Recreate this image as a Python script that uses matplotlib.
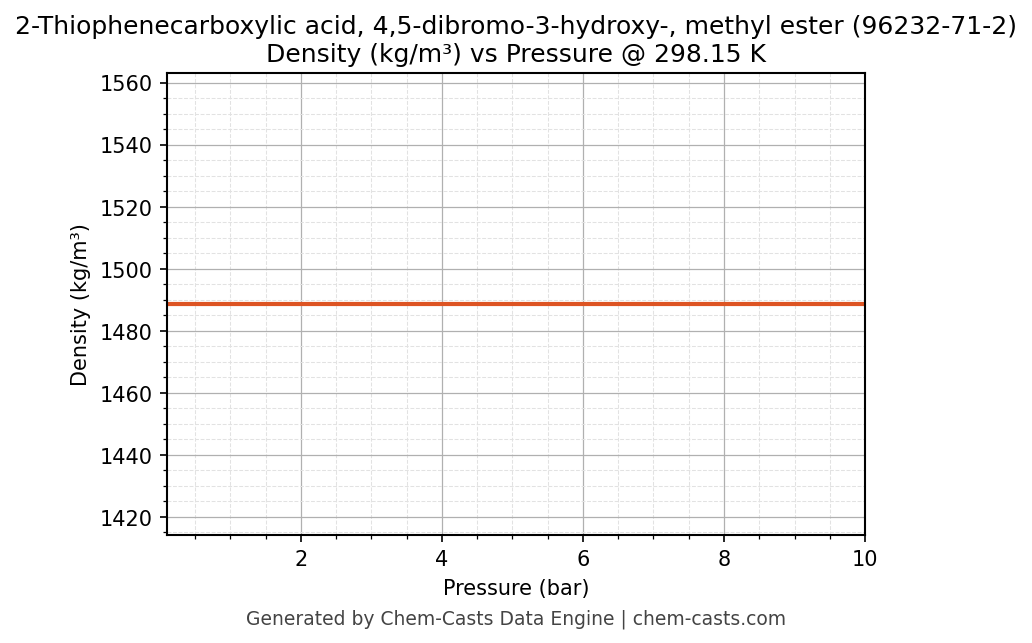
import matplotlib
matplotlib.use("Agg")
import matplotlib.pyplot as plt
from matplotlib.ticker import MultipleLocator

pressure = [0.1, 10.0]
density = [1488.6, 1488.6]
title = "2-Thiophenecarboxylic acid, 4,5-dibromo-3-hydroxy-, methyl ester (96232-71-2)\nDensity (kg/m³) vs Pressure @ 298.15 K"

fig = plt.figure(figsize=(6.88, 4.293), dpi=150)
ax = fig.add_axes([0.1618, 0.168, 0.6764, 0.717])
ax.plot(pressure, density, color="#dd5423", lw=2)
ax.set_xlim(0.1, 10)
ax.set_ylim(density[0] * 0.95, density[0] * 1.05)
ax.xaxis.set_major_locator(MultipleLocator(2))
ax.xaxis.set_minor_locator(MultipleLocator(0.5))
ax.yaxis.set_major_locator(MultipleLocator(20))
ax.yaxis.set_minor_locator(MultipleLocator(5))
ax.grid(which="major", color="#b0b0b0", lw=0.6)
ax.grid(which="minor", color="#e2e2e2", lw=0.5, ls="--")
ax.set_axisbelow(True)
for s in ax.spines.values():
    s.set_linewidth(1.0)
ax.set_xlabel("Pressure (bar)", fontsize=10)
ax.set_ylabel("Density (kg/m³)", fontsize=10)
ax.tick_params(labelsize=10)
ax.set_title(title, fontsize=12)
fig.text(0.5, 0.038, "Generated by Chem-Casts Data Engine | chem-casts.com", ha="center", va="center", fontsize=9, color="#444444")
fig.savefig("out.png", dpi=150)
